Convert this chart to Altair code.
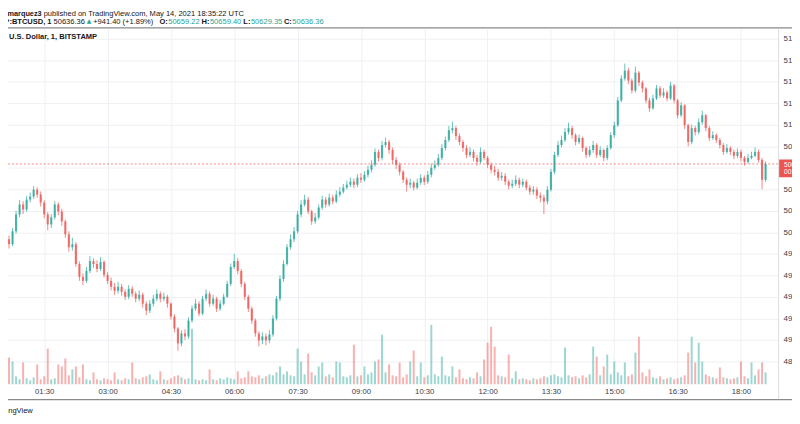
import altair as alt
import pandas as pd
import numpy as np

# ---------------- data ----------------
START_MIN = 35          # first candle 00:35 UTC
STEP_MIN = 5            # candles aggregated to 5 minutes
first_open = 49960
last_price = 50636.36

closes = [
    49936, 49890, 50010, 50167, 50259, 50213, 50305, 50333, 50397, 50351,
    50277, 50167, 50074, 50139, 50259, 50194, 50102, 49982, 49862, 49890,
    49706, 49586, 49549, 49641, 49733, 49706, 49660, 49724, 49604, 49549,
    49494, 49457, 49494, 49447, 49401, 49475, 49429, 49383, 49420, 49337,
    49272, 49337, 49383, 49429, 49383, 49401, 49337, 49217, 49106, 48968,
    49060, 49033, 49180, 49291, 49337, 49245, 49383, 49429, 49337, 49383,
    49291, 49337, 49401, 49521, 49678, 49733, 49641, 49521, 49401, 49291,
    49180, 49060, 48996, 49033, 48996, 49051, 49199, 49383, 49567, 49706,
    49862, 49936, 50010, 50167, 50259, 50305, 50194, 50102, 50139, 50231,
    50305, 50259, 50323, 50287, 50351, 50379, 50416, 50443, 50471, 50443,
    50508, 50489, 50535, 50582, 50628, 50748, 50692, 50812, 50840, 50766,
    50674, 50628, 50563, 50489, 50443, 50462, 50416, 50462, 50508, 50471,
    50535, 50600, 50628, 50692, 50784, 50858, 50950, 50969, 50895, 50840,
    50784, 50720, 50748, 50692, 50655, 50748, 50692, 50628, 50582, 50563,
    50508, 50526, 50471, 50434, 50452, 50489, 50443, 50471, 50416, 50379,
    50397, 50342, 50323, 50287, 50397, 50563, 50720, 50812, 50858, 50932,
    50969, 50904, 50840, 50877, 50784, 50720, 50766, 50812, 50720, 50766,
    50692, 50784, 50904, 50996, 51227, 51430, 51504, 51411, 51319, 51485,
    51393, 51338, 51227, 51153, 51245, 51338, 51273, 51301, 51245, 51365,
    51227, 51089, 51181, 50996, 50840, 50969, 50932, 51024, 51089, 50969,
    50877, 50904, 50858, 50812, 50748, 50784, 50748, 50711, 50748, 50692,
    50655, 50692, 50711, 50748, 50674, 50489, 50636.36,
]

highs = [
    49990, 49970, 50040, 50200, 50300, 50290, 50340, 50370, 50430, 50420,
    50380, 50300, 50190, 50170, 50290, 50280, 50220, 50120, 50010, 49950,
    49910, 49730, 49620, 49680, 49780, 49760, 49740, 49770, 49740, 49630,
    49580, 49530, 49540, 49520, 49470, 49510, 49500, 49450, 49460, 49440,
    49360, 49370, 49420, 49470, 49450, 49440, 49420, 49350, 49240, 49120,
    49090, 49100, 49210, 49320, 49380, 49360, 49410, 49470, 49450, 49420,
    49400, 49370, 49430, 49550, 49710, 49800, 49760, 49660, 49540, 49420,
    49310, 49200, 49080, 49070, 49060, 49090, 49230, 49410, 49600, 49740,
    49890, 49980, 50050, 50200, 50300, 50350, 50330, 50210, 50180, 50260,
    50340, 50330, 50360, 50350, 50390, 50420, 50450, 50480, 50510, 50500,
    50540, 50550, 50570, 50620, 50670, 50780, 50770, 50850, 50880, 50860,
    50790, 50700, 50650, 50580, 50510, 50500, 50480, 50500, 50540, 50530,
    50570, 50640, 50670, 50730, 50820, 50890, 50990, 51030, 50990, 50920,
    50860, 50810, 50790, 50770, 50720, 50790, 50770, 50710, 50650, 50620,
    50590, 50560, 50550, 50490, 50490, 50530, 50510, 50500, 50490, 50440,
    50430, 50420, 50370, 50350, 50430, 50590, 50750, 50850, 50900, 50970,
    51020, 50990, 50920, 50910, 50890, 50800, 50800, 50850, 50830, 50800,
    50780, 50810, 50930, 51030, 51260, 51460, 51570, 51530, 51430, 51540,
    51500, 51410, 51350, 51250, 51280, 51370, 51360, 51340, 51320, 51400,
    51380, 51240, 51210, 51190, 51010, 51000, 50990, 51060, 51130, 51100,
    50990, 50940, 50920, 50880, 50830, 50820, 50800, 50770, 50780, 50770,
    50710, 50730, 50750, 50790, 50770, 50690, 50660,
]

lows = [
    49880, 49850, 49870, 49990, 50140, 50170, 50190, 50280, 50310, 50320,
    50240, 50130, 50020, 50040, 50120, 50160, 50060, 49950, 49820, 49830,
    49680, 49550, 49510, 49530, 49620, 49670, 49630, 49640, 49580, 49520,
    49460, 49420, 49430, 49410, 49370, 49380, 49400, 49350, 49360, 49300,
    49230, 49250, 49310, 49360, 49350, 49360, 49300, 49190, 49070, 48900,
    48940, 49000, 49010, 49160, 49270, 49220, 49230, 49360, 49310, 49320,
    49260, 49270, 49320, 49390, 49500, 49660, 49610, 49490, 49370, 49260,
    49150, 49030, 48940, 48960, 48950, 48970, 49030, 49180, 49360, 49540,
    49690, 49840, 49910, 49990, 50140, 50240, 50170, 50070, 50080, 50120,
    50210, 50230, 50240, 50260, 50270, 50330, 50360, 50400, 50420, 50410,
    50420, 50460, 50470, 50510, 50560, 50610, 50660, 50670, 50790, 50730,
    50640, 50590, 50530, 50460, 50380, 50410, 50390, 50400, 50440, 50440,
    50450, 50510, 50580, 50610, 50670, 50760, 50840, 50920, 50860, 50810,
    50750, 50690, 50700, 50660, 50620, 50640, 50670, 50600, 50550, 50530,
    50480, 50480, 50440, 50400, 50410, 50430, 50410, 50420, 50390, 50350,
    50350, 50310, 50280, 50170, 50260, 50380, 50540, 50700, 50790, 50840,
    50910, 50870, 50810, 50820, 50750, 50690, 50700, 50740, 50690, 50700,
    50660, 50670, 50770, 50880, 50980, 51210, 51410, 51380, 51290, 51300,
    51360, 51300, 51200, 51120, 51140, 51230, 51250, 51250, 51220, 51230,
    51200, 51060, 51070, 50960, 50800, 50820, 50900, 50910, 51000, 50940,
    50850, 50860, 50830, 50780, 50720, 50730, 50720, 50680, 50690, 50660,
    50620, 50640, 50680, 50700, 50650, 50400, 50470,
]

volumes = [
    12, 54, 46, 16, 10, 44, 12, 8, 14, 40,
    10, 16, 72, 10, 12, 40, 36, 52, 18, 30,
    36, 14, 40, 10, 8, 24, 10, 8, 12, 10,
    8, 24, 10, 8, 12, 10, 44, 12, 10, 14,
    16, 20, 10, 8, 26, 10, 8, 12, 16, 18,
    14, 10, 12, 112, 10, 8, 10, 8, 30, 10,
    8, 12, 10, 14, 12, 10, 26, 12, 14, 26,
    16, 14, 18, 12, 16, 20, 18, 24, 36, 20,
    26, 18, 16, 72, 46, 20, 62, 24, 18, 36,
    44, 16, 20, 14, 46, 44, 16, 14, 18, 80,
    16, 18, 36, 20, 24, 46, 50, 100, 24, 40,
    18, 16, 44, 14, 20, 46, 68, 16, 44, 14,
    18, 120, 20, 16, 56, 18, 16, 36, 14, 30,
    12, 10, 14, 12, 24, 16, 50, 84, 116, 76,
    18, 16, 14, 60, 12, 26, 10, 12, 10, 8,
    12, 10, 12, 16, 14, 18, 20, 16, 14, 74,
    18, 14, 16, 12, 18, 14, 20, 76, 56, 18,
    36, 60, 20, 46, 24, 18, 44, 16, 20, 64,
    96, 24, 16, 30, 14, 12, 16, 10, 12, 14,
    10, 12, 14, 18, 64, 96, 44, 84, 46, 20,
    16, 14, 12, 34, 14, 12, 10, 12, 14, 46,
    16, 12, 44, 18, 30, 44, 24,
]

time_ticks = [90, 180, 270, 360, 450, 540, 630, 720, 810, 900, 990, 1080]
price_ticks = list(range(48800, 52000, 200))

# ---------------- table ----------------
n = len(closes)
opens = [first_open] + closes[:-1]
df = pd.DataFrame({"close": closes, "open": opens, "high": highs,
                   "low": lows, "vol": volumes})
df["m"] = START_MIN + STEP_MIN * np.arange(n)
df["high"] = np.maximum(df["high"], np.maximum(df["open"], df["close"]))
df["low"] = np.minimum(df["low"], np.minimum(df["open"], df["close"]))
df["dir"] = np.where(df["close"] >= df["open"], "up", "down")

UP, DOWN = "#26a69a", "#ef5350"
GRID = "#eef0f3"
FONT = "Liberation Sans"
W, H = 778, 359

xenc = alt.X("m:Q",
             scale=alt.Scale(domain=[45.57, 1125.8], nice=False, zero=False),
             axis=alt.Axis(values=time_ticks, grid=True, gridColor=GRID,
                           domain=False, ticks=False, title=None,
                           labelFont=FONT, labelFontSize=7.8,
                           labelColor="#3a3e4a", labelPadding=3,
                           labelExpr="(floor(datum.value/60) < 10 ? '0' : '') + floor(datum.value/60) + ':' + (datum.value % 60 < 10 ? '0' : '') + (datum.value % 60)"))
yscale = alt.Scale(domain=[48588, 51892], nice=False, zero=False)
# the 50600 label sits behind the red last-price box, as in the picture
yaxis = alt.Axis(orient="right", values=price_ticks, grid=True, gridColor=GRID,
                 domain=False, ticks=False, title=None, labelFont=FONT,
                 labelFontSize=8, labelColor="#3a3e4a", labelPadding=5,
                 labelExpr="datum.value == 50600 ? '' : datum.label")
color = alt.Color("dir:N", scale=alt.Scale(domain=["up", "down"], range=[UP, DOWN]),
                  legend=None)

base = alt.Chart(df)
wicks = base.mark_rule(strokeWidth=1, opacity=0.7).encode(
    x=xenc, y=alt.Y("low:Q", scale=yscale, axis=yaxis), y2="high:Q", color=color)
bodies = base.mark_bar(size=2.2, opacity=0.75).encode(
    x=xenc, y=alt.Y("open:Q", scale=yscale, axis=yaxis), y2="close:Q", color=color)
pline = alt.Chart(pd.DataFrame({"p": [last_price]})).mark_rule(
    color=DOWN, strokeDash=[2, 2], strokeWidth=1, opacity=0.7).encode(
    y=alt.Y("p:Q", scale=yscale, axis=yaxis))
price = alt.layer(wicks, bodies, pline)

volume = base.mark_bar(size=2.0, opacity=0.45).encode(
    x=xenc,
    y=alt.Y("vol:Q", scale=alt.Scale(domain=[0, 718], nice=False), axis=None),
    color=color)

one = pd.DataFrame({"a": [0]})


def txt(s, x, y, col="#131722", bold=False, align="left", size=7.6, font=FONT):
    return alt.Chart(pd.DataFrame({"t": [s]})).mark_text(
        align=align, baseline="middle", font=font, fontSize=size,
        fontWeight="bold" if bold else "normal", color=col).encode(
        x=alt.value(x), y=alt.value(y), text="t:N")


def hrule(y, x1, x2, col, w=1.0):
    return alt.Chart(one).mark_rule(color=col, strokeWidth=w).encode(
        x=alt.value(x1), x2=alt.value(x2), y=alt.value(y))


def vrule(x, y1, y2, col, w=1.0):
    return alt.Chart(one).mark_rule(color=col, strokeWidth=w).encode(
        x=alt.value(x), y=alt.value(y1), y2=alt.value(y2))


TEAL_T = "#26a69a"
L1, L2 = -15.2, -7.2
texts = [
    txt("lomarquez3", 34, L1, bold=True, align="right", size=7.4),
    txt("published on TradingView.com, May 14, 2021 18:35:22 UTC", 36, L1, size=7.6),
    txt("BITSTAMP:BTCUSD, 1", 44, L2, bold=True, align="right"),
    txt("50636.36", 46, L2),
    txt("\u25B2", 79.5, L2 - 0.3, col=TEAL_T, size=6, font="DejaVu Sans"),
    txt("+941.40 (+1.89%)", 86, L2),
    txt("O:", 153, L2, bold=True), txt("50659.22", 161.9, L2, col=TEAL_T),
    txt("H:", 195.5, L2, bold=True), txt("50659.40", 204.0, L2, col=TEAL_T),
    txt("L:", 237.7, L2, bold=True), txt("50629.35", 245.4, L2, col=TEAL_T),
    txt("C:", 278.7, L2, bold=True), txt("50636.36", 287.2, L2, col=TEAL_T),
    txt("Bitcoin / U.S. Dollar, 1, BITSTAMP", 90, 8.7, bold=True, align="right"),
    txt("TradingView", 25, 386, col="#131722", align="right"),
]

frame = [
    hrule(-1, -10, 800, "#8a8a8a", 1.3),
    hrule(374.5, -10, 800, "#8a8a8a", 1.3),
    vrule(778.5, 0, 374, "#dcdde0", 1),
]

label_box = alt.Chart(one).mark_rect(color=DOWN).encode(
    x=alt.value(779), x2=alt.value(830), y=alt.value(132), y2=alt.value(150))
label_txt = [txt("50636.36", 784, 137.3, col="white", size=6.6),
             txt("00:38", 784, 145.0, col="white", size=6.6)]

chart = alt.layer(volume, price, *frame, label_box, *label_txt, *texts).resolve_scale(
    y="independent").properties(
    width=W, height=H,
    autosize=alt.AutoSizeParams(type="none"),
    padding={"left": 0, "top": 19, "right": 14, "bottom": 30},
    background="white",
).configure_view(strokeWidth=0)

chart.save("out.html", embed_options={"renderer": "svg", "actions": False})
